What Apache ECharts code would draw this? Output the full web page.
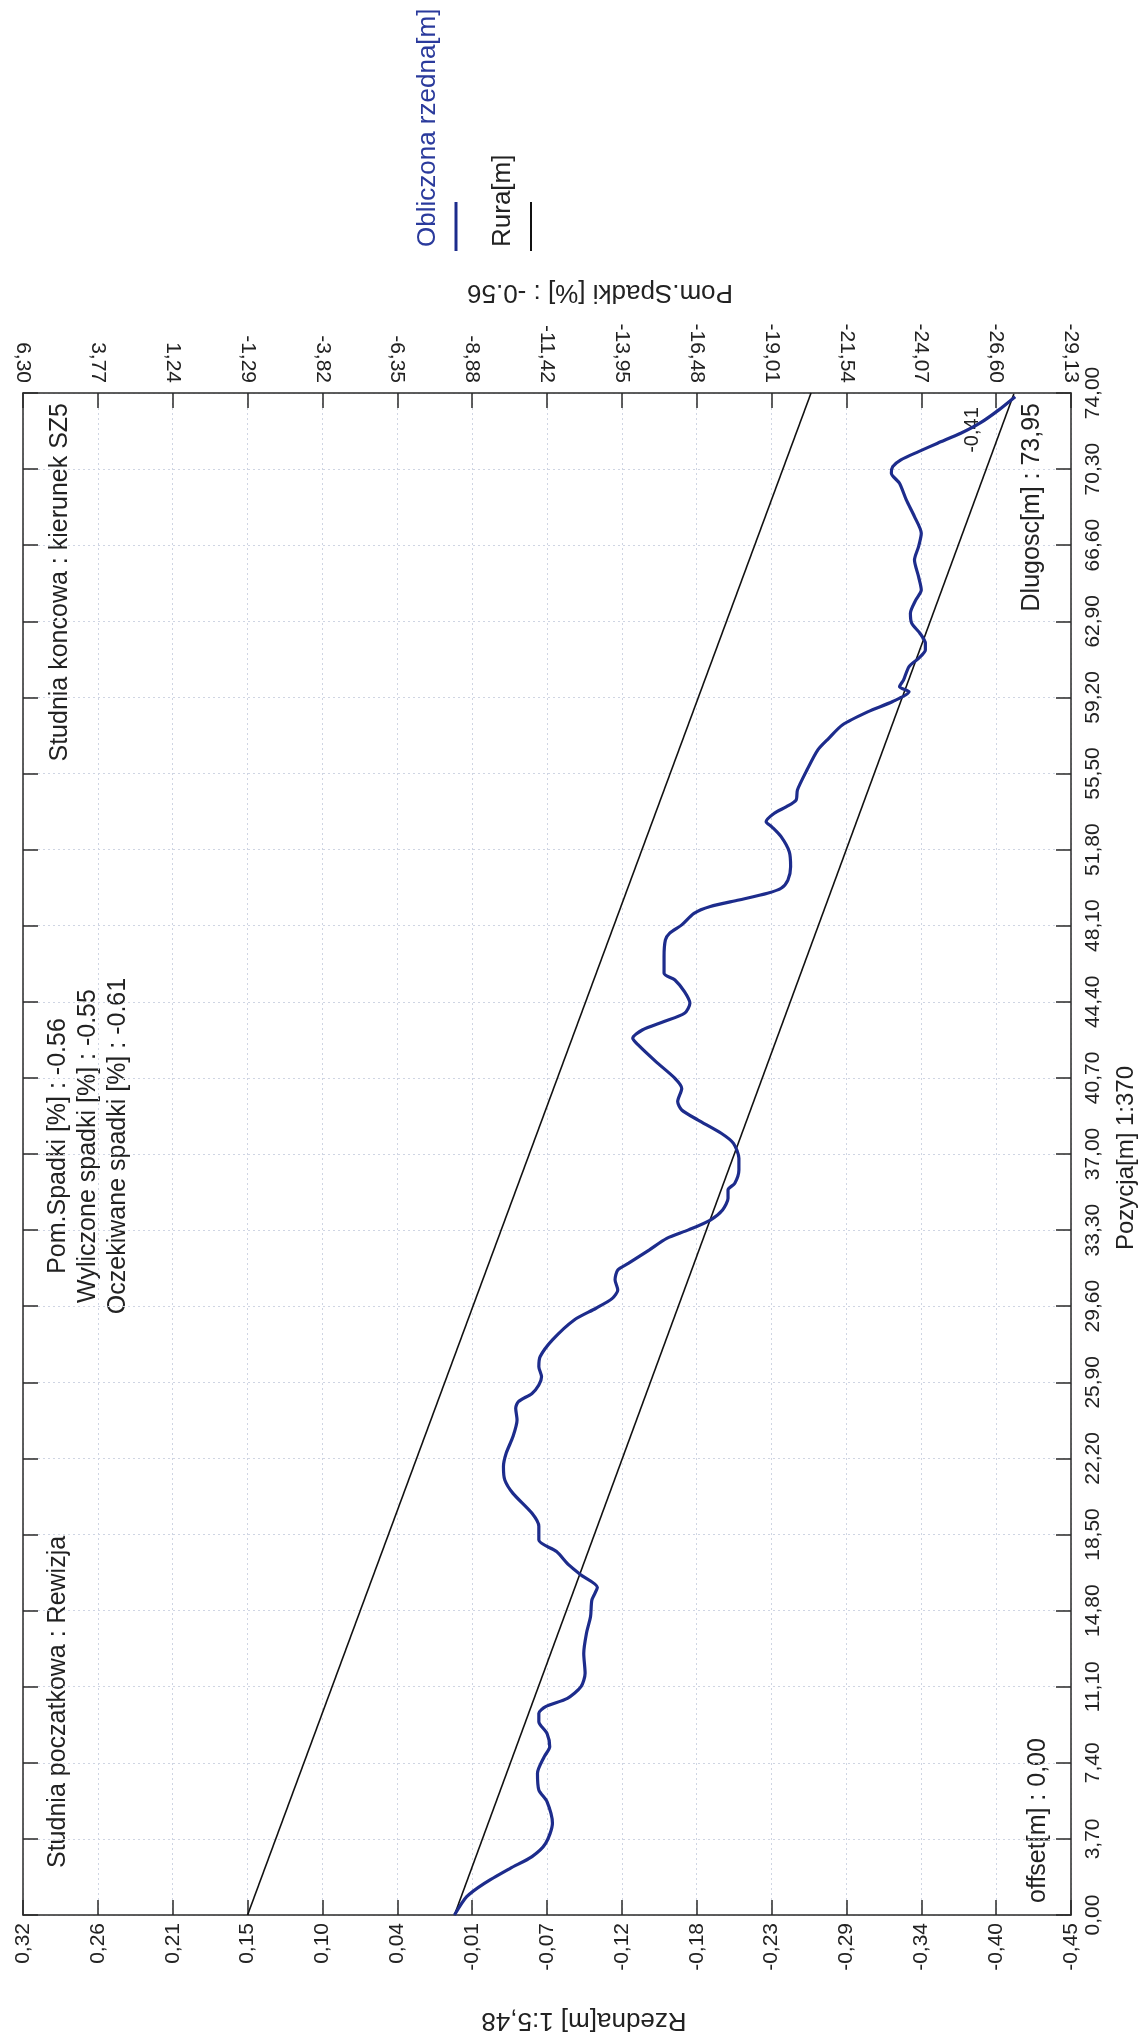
<!DOCTYPE html>
<html>
<head>
<meta charset="utf-8">
<script src="https://cdn.jsdelivr.net/npm/echarts@6/dist/echarts.min.js"></script>
<style>html,body{margin:0;padding:0;background:#fff}#c{width:1139px;height:2040px}</style>
</head>
<body>
<div id="c"></div>
<script>
// ---- tick labels ----
const pozycjaTicks = ['0,00','3,70','7,40','11,10','14,80','18,50','22,20','25,90','29,60','33,30','37,00','40,70','44,40','48,10','51,80','55,50','59,20','62,90','66,60','70,30','74,00'];
const rzednaTicks = ['0,32','0,26','0,21','0,15','0,10','0,04','-0,01','-0,07','-0,12','-0,18','-0,23','-0,29','-0,34','-0,40','-0,45'];
const spadkiTicks = ['6,30','3,77','1,24','-1,29','-3,82','-6,35','-8,88','-11,42','-13,95','-16,48','-19,01','-21,54','-24,07','-26,60','-29,13'];

// ---- measured profile (Pozycja [m] -> Obliczona rzedna [m]) ----
const pozycja = [0.00,0.89,1.54,2.27,2.84,3.48,4.46,5.51,6.08,6.89,7.70,8.18,8.83,9.40,9.81,10.13,10.53,11.10,11.75,12.72,13.70,14.51,15.32,15.93,16.53,17.02,17.67,18.23,18.90,19.53,20.50,21.15,21.80,22.45,23.26,24.07,24.64,24.96,25.36,25.77,26.17,26.66,27.15,27.96,28.93,29.50,29.98,30.39,30.88,31.36,31.69,32.33,32.90,33.31,33.79,34.28,34.85,35.25,35.58,36.22,36.79,37.52,38.01,38.65,39.14,39.55,40.19,40.68,41.49,42.30,42.63,43.03,43.44,43.84,44.33,44.89,45.46,45.79,46.60,47.41,47.73,48.14,48.70,49.03,49.35,49.68,49.92,50.32,50.97,51.70,52.43,52.92,53.16,53.57,53.89,54.21,54.70,55.67,56.65,57.21,57.86,58.51,59.00,59.48,59.72,60.05,60.70,61.10,61.51,61.83,62.32,62.80,63.29,63.94,64.42,65.07,65.88,66.53,67.18,67.99,68.80,69.61,70.10,70.42,70.75,71.15,71.56,72.04,72.53,73.18,73.82];
const obliczonaRzedna = [0.003,-0.006,-0.019,-0.038,-0.054,-0.064,-0.069,-0.065,-0.059,-0.058,-0.063,-0.067,-0.065,-0.059,-0.059,-0.064,-0.080,-0.090,-0.093,-0.092,-0.094,-0.097,-0.098,-0.102,-0.090,-0.081,-0.072,-0.059,-0.059,-0.054,-0.040,-0.034,-0.033,-0.035,-0.040,-0.043,-0.042,-0.044,-0.054,-0.059,-0.061,-0.059,-0.060,-0.069,-0.085,-0.101,-0.113,-0.117,-0.115,-0.117,-0.125,-0.140,-0.153,-0.169,-0.185,-0.194,-0.198,-0.198,-0.203,-0.206,-0.206,-0.202,-0.193,-0.176,-0.164,-0.161,-0.164,-0.159,-0.145,-0.132,-0.128,-0.135,-0.151,-0.166,-0.170,-0.166,-0.159,-0.151,-0.151,-0.152,-0.155,-0.164,-0.173,-0.185,-0.206,-0.227,-0.237,-0.242,-0.244,-0.243,-0.237,-0.230,-0.226,-0.232,-0.241,-0.248,-0.249,-0.256,-0.264,-0.272,-0.282,-0.301,-0.319,-0.331,-0.324,-0.327,-0.331,-0.338,-0.343,-0.343,-0.339,-0.333,-0.332,-0.336,-0.340,-0.338,-0.335,-0.338,-0.340,-0.335,-0.329,-0.324,-0.318,-0.319,-0.325,-0.338,-0.352,-0.369,-0.383,-0.397,-0.409];

// ---- pipe (Rura) lines ----
const ruraDolnaPozycja = [0, 73.95];
const ruraDolna = [0.003, -0.408];
const ruraGornaPozycja = [0, 74];
const ruraGorna = [0.155, -0.259];

const num = s => parseFloat(s.replace(',', '.'));
const rzMax = num(rzednaTicks[0]), rzMin = num(rzednaTicks[rzednaTicks.length-1]);
const rzStep = (rzMax - rzMin) / (rzednaTicks.length - 1);
const rzVals = rzednaTicks.map((_, i) => +(rzMax - i * rzStep).toFixed(6));
const spMax = num(spadkiTicks[0]), spMin = num(spadkiTicks[spadkiTicks.length-1]);
const spStep = (spMax - spMin) / (spadkiTicks.length - 1);
const spVals = spadkiTicks.map((_, i) => +(spMax - i * spStep).toFixed(6));
const pzVals = pozycjaTicks.map(num);

const FONT = '"Liberation Sans", Arial, sans-serif';
const AX = '#2a2a2a';
const GRID = { color: '#cfd5e3', type: [2, 3], width: 1 };
const BLUE = '#1d2c8c';

const chart = echarts.init(document.getElementById('c'));

function txt(text, x, y, opt) {
  return Object.assign({
    type: 'text', x: x, y: y, rotation: Math.PI / 2, silent: true,
    style: Object.assign({ text: text, fill: '#222', fontSize: 25, fontFamily: FONT, align: 'center', verticalAlign: 'middle' }, opt || {})
  });
}

chart.setOption({
  backgroundColor: '#fff',
  animation: false,
  grid: { left: 23, right: 68, top: 393, bottom: 125, containLabel: false },
  xAxis: [
    {
      type: 'value', position: 'bottom', min: rzMin, max: rzMax, inverse: true,
      axisLine: { show: true, onZero: false, lineStyle: { color: AX, width: 1.5 } },
      axisTick: { show: true, inside: true, length: 15, customValues: rzVals, lineStyle: { color: AX, width: 1.5 } },
      axisLabel: { customValues: rzVals, rotate: 90, margin: 8, fontSize: 21, color: '#222', fontFamily: FONT,
        formatter: v => rzednaTicks[Math.round((rzMax - v) / rzStep)] },
      splitLine: { show: true, lineStyle: GRID }
    },
    {
      type: 'value', position: 'top', min: spMin, max: spMax, inverse: true,
      axisLine: { show: true, onZero: false, lineStyle: { color: AX, width: 1.5 } },
      axisTick: { show: true, inside: true, length: 15, customValues: spVals, lineStyle: { color: AX, width: 1.5 } },
      axisLabel: { customValues: spVals, rotate: 90, margin: 10, fontSize: 21, color: '#222', fontFamily: FONT,
        formatter: v => spadkiTicks[Math.round((spMax - v) / spStep)] },
      splitLine: { show: false }
    }
  ],
  yAxis: [
    {
      type: 'value', position: 'right', min: pzVals[0], max: pzVals[pzVals.length-1],
      axisLine: { show: true, onZero: false, lineStyle: { color: AX, width: 1.5 } },
      axisTick: { show: true, inside: true, length: 15, customValues: pzVals, lineStyle: { color: AX, width: 1.5 } },
      axisLabel: { customValues: pzVals, rotate: 90, margin: 12, fontSize: 21, color: '#222', fontFamily: FONT,
        formatter: v => pozycjaTicks[pzVals.findIndex(t => Math.abs(t - v) < 1e-6)] },
      splitLine: { show: true, lineStyle: GRID }
    },
    {
      type: 'value', position: 'left', min: pzVals[0], max: pzVals[pzVals.length-1],
      axisLine: { show: true, onZero: false, lineStyle: { color: AX, width: 1.5 } },
      axisTick: { show: true, inside: true, length: 15, customValues: pzVals, lineStyle: { color: AX, width: 1.5 } },
      axisLabel: { show: false },
      splitLine: { show: false }
    }
  ],
  series: [
    {
      name: 'Rura[m]', type: 'line', xAxisIndex: 0, yAxisIndex: 0, showSymbol: false, silent: true,
      data: ruraGornaPozycja.map((p, i) => [ruraGorna[i], p]),
      lineStyle: { color: '#111', width: 1.6 }, z: 2
    },
    {
      name: 'Rura[m] ', type: 'line', xAxisIndex: 0, yAxisIndex: 0, showSymbol: false, silent: true,
      data: ruraDolnaPozycja.map((p, i) => [ruraDolna[i], p]),
      lineStyle: { color: '#111', width: 1.6 }, z: 2
    },
    {
      name: 'Obliczona rzedna[m]', type: 'line', xAxisIndex: 0, yAxisIndex: 0, showSymbol: false, silent: true,
      smooth: 0.25,
      data: pozycja.map((p, i) => [obliczonaRzedna[i], p]),
      lineStyle: { color: BLUE, width: 3.2 }, z: 3
    }
  ],
  graphic: [
    // legend
    txt('Obliczona rzedna[m]', 428, 247, { fill: '#2a3a9c', align: 'left', fontSize: 26 }),
    { type: 'line', silent: true, shape: { x1: 456, y1: 202, x2: 456, y2: 251 }, style: { stroke: BLUE, lineWidth: 3 } },
    txt('Rura[m]', 503, 247, { align: 'left', fontSize: 26 }),
    { type: 'line', silent: true, shape: { x1: 531, y1: 202, x2: 531, y2: 251 }, style: { stroke: '#111', lineWidth: 2 } },
    // axis titles
    txt('Pom.Spadki [%] : -0.56', 600, 292, { fontSize: 26 }),
    txt('Rzedna[m] 1:5,48', 584, 2020, { fontSize: 26 }),
    txt('Pozycja[m] 1:370', 1126, 1158, { fontSize: 24 }),
    // annotations
    txt('Studnia poczatkowa : Rewizja', 58, 1868, { align: 'left' }),
    txt('Studnia koncowa : kierunek SZ5', 60, 403, { align: 'right' }),
    txt('Pom.Spadki [%] : -0.56', 58, 1146),
    txt('Wyliczone spadki [%] : -0.55', 88, 1146),
    txt('Oczekiwane spadki [%] : -0.61', 118, 1146),
    txt('offset[m] : 0,00', 1038, 1903, { align: 'left' }),
    txt('Dlugosc[m] : 73,95', 1032, 403, { align: 'right' }),
    txt('-0,41', 972, 430, { fontSize: 20 })
  ]
});
// upside-down axis titles
const opt = chart.getOption();
opt.graphic[0].elements.forEach(function (e) {
  if (e.style && (e.style.text === 'Rzedna[m] 1:5,48' || (e.style.text === 'Pom.Spadki [%] : -0.56' && e.y === 292))) {
    e.rotation = Math.PI;
  }
});
chart.setOption({ graphic: opt.graphic });
</script>
</body>
</html>
